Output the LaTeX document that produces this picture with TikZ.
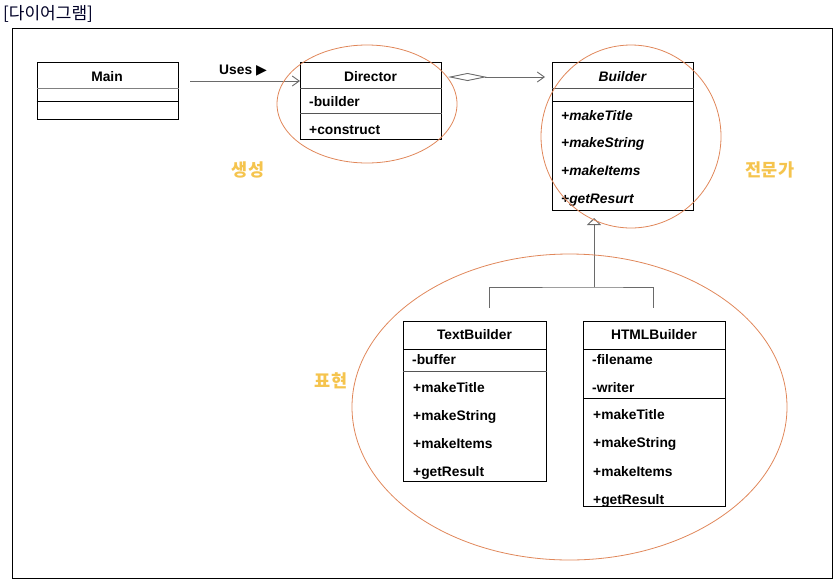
\documentclass[tikz,border=0pt]{standalone}
\usepackage{fontspec}
\setmainfont{Liberation Sans}
\newfontfamily\kr{Noto Sans CJK KR}
\newfontfamily\symf{DejaVu Sans}
\usetikzlibrary{arrows.meta}
\definecolor{ellc}{HTML}{E0875A}
\definecolor{lblc}{HTML}{F5C44E}
\definecolor{conn}{HTML}{6A6A6A}
\definecolor{sepc}{HTML}{555555}
\begin{document}
\begin{tikzpicture}[x=1pt,y=-1pt,
  classbox/.style={draw=black, line width=1.2pt, anchor=north west, inner sep=0pt, fill=none},
  sepline/.style={draw=sepc, line width=0.9pt},
  ctitle/.style={font=\fontsize{13.8}{15}\selectfont\bfseries, inner sep=0pt},
  cmember/.style={font=\fontsize{13.8}{15}\selectfont\bfseries, anchor=mid west, inner sep=0pt},
  cmemberit/.style={cmember, font=\fontsize{13.8}{15}\selectfont\bfseries\itshape},
  regionell/.style={draw=ellc, line width=0.8pt},
  regionlbl/.style={font=\kr\fontsize{17.5}{19}\selectfont\bfseries, text=lblc, inner sep=0pt},
  connline/.style={draw=conn, line width=0.9pt}
]
\useasboundingbox (0,0) rectangle (837,582);
% title and frame
\node[anchor=west, inner sep=0pt, font=\kr\fontsize{17}{19}\selectfont, text=black!85!blue] (title) at (3,14) {[다이어그램]};
\node[draw=black, line width=1.3pt, anchor=north west, inner sep=0pt, minimum width=820.5pt, minimum height=549.5pt] (frame) at (11.5,28) {};

% Main
\node[classbox, minimum width=141pt, minimum height=57pt] (main) at (36.5,62) {};
\draw[draw=gray, line width=0.9pt] (main.west |- 0,88) -- (main.east |- 0,88);
\draw[sepline, draw=black] (main.west |- 0,101) -- (main.east |- 0,101);
\node[ctitle] (mainT) at (107,77) {Main};

% Director
\node[classbox, minimum width=141pt, minimum height=77pt] (director) at (300,62) {};
\draw[sepline] (director.west |- 0,88) -- (director.east |- 0,88);
\draw[sepline] (director.west |- 0,113) -- (director.east |- 0,113);
\node[ctitle] (directorT) at (370.5,77) {Director};
\node[cmember] (d1) at (309,103.5) {-builder};
\node[cmember] (d2) at (309,131.5) {+construct};

% Builder
\node[classbox, minimum width=141pt, minimum height=148pt] (builder) at (552,62) {};
\draw[sepline] (builder.west |- 0,88) -- (builder.east |- 0,88);
\draw[sepline, draw=black] (builder.west |- 0,101) -- (builder.east |- 0,101);
\node[ctitle, font=\fontsize{13.8}{15}\selectfont\bfseries\itshape] (builderT) at (622.5,77) {Builder};
\node[cmemberit] (b1) at (561,117.5) {+makeTitle};
\node[cmemberit] (b2) at (561,145) {+makeString};
\node[cmemberit] (b3) at (561,173) {+makeItems};
\node[cmemberit] (b4) at (561,201) {+getResurt};

% TextBuilder
\node[classbox, minimum width=143pt, minimum height=160pt] (textb) at (403,321) {};
\draw[sepline, draw=black] (textb.west |- 0,349) -- (textb.east |- 0,349);
\draw[sepline] (textb.west |- 0,371) -- (textb.east |- 0,371);
\node[ctitle] (textbT) at (474.5,335) {TextBuilder};
\node[cmember] (t1) at (412,362) {-buffer};
\node[cmember] (t2) at (413,390) {+makeTitle};
\node[cmember] (t3) at (413,418) {+makeString};
\node[cmember] (t4) at (413,446) {+makeItems};
\node[cmember] (t5) at (413,474) {+getResult};

% HTMLBuilder
\node[classbox, minimum width=142pt, minimum height=185pt] (htmlb) at (583,321) {};
\draw[sepline, draw=black] (htmlb.west |- 0,349) -- (htmlb.east |- 0,349);
\draw[sepline, draw=black] (htmlb.west |- 0,398) -- (htmlb.east |- 0,398);
\node[ctitle] (htmlbT) at (654,335) {HTMLBuilder};
\node[cmember] (h1) at (592,362) {-filename};
\node[cmember] (h2) at (592,390) {-writer};
\node[cmember] (h3) at (593,417) {+makeTitle};
\node[cmember] (h4) at (593,445) {+makeString};
\node[cmember] (h5) at (593,474) {+makeItems};
\node[cmember] (h6) at (593,501.5) {+getResult};

% Uses association
\coordinate (usesStart) at (190,81);
\draw[connline, -{Straight Barb[length=7pt,width=10pt,line width=0.9pt]}] (usesStart) -- (director.west |- usesStart);
\node[font=\fontsize{13.8}{15}\selectfont\bfseries, inner sep=0pt] (usesL) at (243,71) {Uses {\symf\fontsize{14}{15}\selectfont ▶}};

% aggregation Director -> Builder
\coordinate (aggStart) at (448,77);
\coordinate (aggEnd) at (545,77);
\draw[connline, {Diamond[open,length=39pt,width=8pt,line width=0.9pt]}-{Straight Barb[length=7pt,width=10pt,line width=0.9pt]}] (aggStart) -- (aggEnd);

% generalization
\coordinate (genTop) at (594,218);
\coordinate (genJoin) at (594,287);
\coordinate (tbTop) at (489,308);
\coordinate (hbTop) at (653,308);
\draw[connline, -{Triangle[open,length=7pt,width=14pt,line width=0.9pt]}] (genJoin) -- (genTop);
\draw[connline] (tbTop) |- (genJoin) -| (hbTop);

% region ellipses
\draw[regionell] (367,104) ellipse [x radius=90, y radius=59];
\draw[regionell] (631,136.5) ellipse [x radius=90, y radius=91.5];
\draw[regionell] (569.5,407) ellipse [x radius=217.5, y radius=153];

% region labels
\node[regionlbl] (lblMake) at (248,170) {생성};
\node[regionlbl] (lblExpert) at (770,170) {전문가};
\node[regionlbl] (lblRep) at (331,381) {표현};
\end{tikzpicture}
\end{document}
